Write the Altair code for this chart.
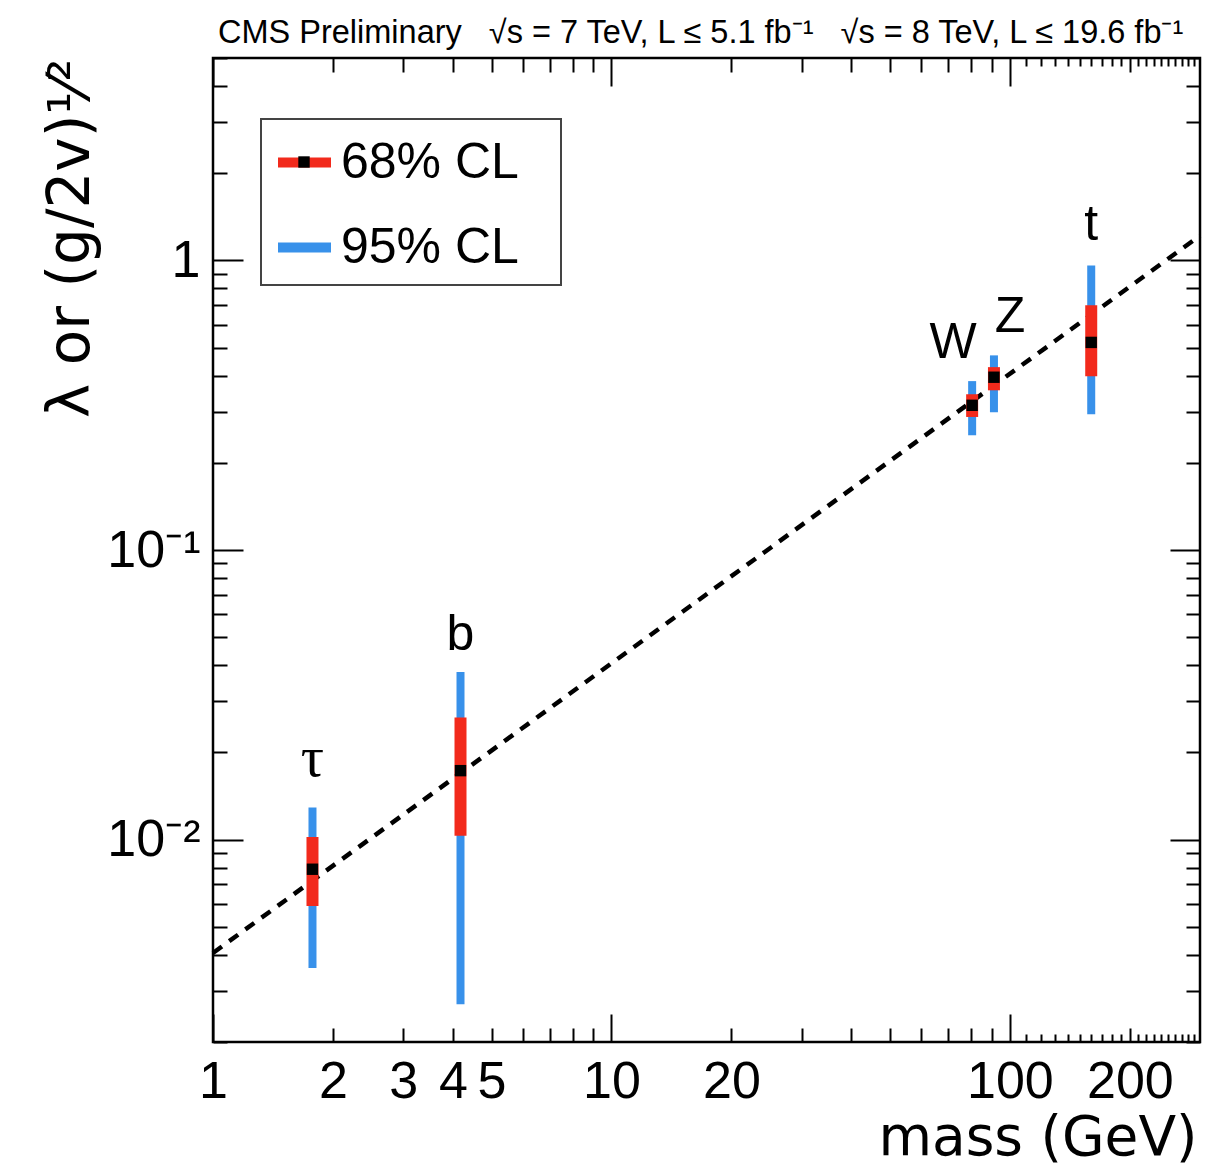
import altair as alt
import pandas as pd

# ---------------- data ----------------
particles = ["τ", "b", "W", "Z", "t"]
masses = [1.777, 4.18, 80.4, 91.2, 160.0]
central = [0.0079, 0.0173, 0.316, 0.395, 0.521]
lo68 = [0.0059, 0.0103, 0.288, 0.356, 0.398]
hi68 = [0.0102, 0.0264, 0.345, 0.428, 0.700]
lo95 = [0.0036, 0.0027, 0.249, 0.299, 0.294]
hi95 = [0.0129, 0.0379, 0.383, 0.470, 0.960]

# SM expectation (dashed line) end points
sm_mass = [1.0, 300.0]
sm_value = [0.00406, 1.218]

# axis ticks / labels
x_label_values = [1, 2, 3, 4, 5, 10, 20, 100, 200]
x_major = [1, 10, 100]
x_minor = [2, 3, 4, 5, 6, 7, 8, 9, 20, 30, 40, 50, 60, 70, 80, 90, 200]
x_fine = [110, 120, 130, 140, 150, 160, 170, 180, 190,
          210, 220, 230, 240, 250, 260, 270, 280, 290]
y_label_values = [0.01, 0.1, 1]
y_label_texts = ["10⁻²", "10⁻¹", "1"]
y_major = [0.01, 0.1, 1]
y_minor = [0.002, 0.003, 0.004, 0.005, 0.006, 0.007, 0.008, 0.009,
           0.02, 0.03, 0.04, 0.05, 0.06, 0.07, 0.08, 0.09,
           0.2, 0.3, 0.4, 0.5, 0.6, 0.7, 0.8, 0.9,
           2, 3, 4, 5]

cl_names = ["68% CL", "95% CL"]
cl_colors = ["#f22a1c", "#3891ea"]
marker_names = ["best fit"]

GAP = "\u00a0\u00a0 "
header_text = ["CMS Preliminary" + GAP + "√s = 7 TeV, L ≤ 5.1 fb⁻¹" + GAP
               + "√s = 8 TeV, L ≤ 19.6 fb⁻¹"]
x_title = "mass (GeV)"
y_title = "λ or (g/2v)¹⁄²"

FONT = "Liberation Sans"
TFONT = "DejaVu Sans"
W, H = 987, 984

# ---------------- tables ----------------
df = pd.DataFrame({
    "particle": particles, "mass": masses, "central": central,
    "lo68": lo68, "hi68": hi68, "lo95": lo95, "hi95": hi95,
})
df["cl68"] = cl_names[0]
df["cl95"] = cl_names[1]
df["marker"] = marker_names[0]
line_df = pd.DataFrame({"mass": sm_mass, "value": sm_value})
header_df = pd.DataFrame({"text": header_text})

xs = alt.Scale(type="log", domain=[1, 300], nice=False)
ys = alt.Scale(type="log", domain=[0.002, 5], nice=False)
cs = alt.Scale(domain=cl_names, range=cl_colors)
ss = alt.Scale(domain=marker_names, range=["square"])

legend = alt.Legend(
    orient="none", legendX=48, legendY=61, title="\u00a0",
    titleOrient="right", titlePadding=30, titleFontSize=8,
    symbolType="stroke", symbolSize=2809, symbolStrokeWidth=10,
    labelFontSize=50, labelFont=FONT, labelColor="black", labelOffset=5,
    labelLimit=600,
    padding=12, rowPadding=28, strokeColor="#444444", fillColor="white",
)
# black best-fit marker drawn on top of the 68% legend symbol
marker_legend = alt.Legend(
    orient="none", legendX=85, legendY=98, title=None,
    symbolFillColor="black", symbolStrokeColor="black", symbolStrokeWidth=0,
    symbolSize=130, symbolOpacity=1, labelExpr="''", labelFontSize=1,
    labelOffset=0, padding=0, zindex=2,
)


def tick_axis(orient, values, size):
    return alt.Axis(orient=orient, values=values, tickSize=alt.ExprRef(expr=str(-size)),
                    labels=False, domain=False, grid=False, title=None,
                    tickColor="black", tickWidth=2)


def axis_layer(xaxis, yaxis):
    return alt.Chart(df).mark_point(opacity=0).encode(
        x=alt.X("mass:Q", scale=xs, axis=xaxis),
        y=alt.Y("central:Q", scale=ys, axis=yaxis),
    )


lab_map = " : ".join(
    [f"datum.value == {v} ? '{t}'" for v, t in zip(y_label_values, y_label_texts)]
) + " : ''"

x_label_axis = alt.Axis(
    orient="bottom", values=x_label_values, ticks=False, domain=False, grid=False,
    labelFontSize=52, labelFont=FONT, labelColor="black", labelPadding=14,
    labelOverlap=False, labelFlush=False, labelBound=False, format="d",
    title=x_title, titleFontSize=55, titleFont=TFONT, titleFontWeight="normal",
    titleColor="black", titleAnchor="end", titleAlign="right",
    titleBaseline="alphabetic", titleX=W - 3, titleY=112,
)
y_label_axis = alt.Axis(
    orient="left", values=y_label_values, ticks=False, domain=False, grid=False,
    labelFontSize=52, labelFont=FONT, labelColor="black", labelPadding=13,
    labelOverlap=False, labelFlush=False, labelBound=False, labelExpr=lab_map,
    labelBaseline="middle",
    title=y_title, titleFontSize=58, titleFont=TFONT, titleFontWeight="normal",
    titleColor="black", titleAngle=270, titleAlign="right",
    titleBaseline="alphabetic", titleX=-125, titleY=0,
)

axes = [
    axis_layer(tick_axis("bottom", x_major, 28), tick_axis("left", y_major, 30)),
    axis_layer(tick_axis("bottom", x_minor, 14), tick_axis("left", y_minor, 14)),
    axis_layer(tick_axis("bottom", x_fine, 8), tick_axis("right", y_major, 30)),
    axis_layer(tick_axis("top", x_major, 28), tick_axis("right", y_minor, 14)),
    axis_layer(tick_axis("top", x_minor, 14), y_label_axis),
    axis_layer(tick_axis("top", x_fine, 8), None),
    axis_layer(x_label_axis, None),
]

X = alt.X("mass:Q", scale=xs, axis=None)

sm_line = alt.Chart(line_df).mark_line(
    color="black", strokeWidth=4.5, strokeDash=[11, 9]
).encode(x=X, y=alt.Y("value:Q", scale=ys, axis=None))

band95 = alt.Chart(df).mark_rule(strokeWidth=8).encode(
    x=X, y=alt.Y("lo95:Q", scale=ys, axis=None), y2="hi95:Q",
    color=alt.Color("cl95:N", scale=cs, legend=legend),
)
band68 = alt.Chart(df).mark_rule(strokeWidth=12).encode(
    x=X, y=alt.Y("lo68:Q", scale=ys, axis=None), y2="hi68:Q",
    color=alt.Color("cl68:N", scale=cs, legend=legend),
)
centre = alt.Chart(df).mark_point(
    size=130, color="black", filled=True, opacity=1, strokeWidth=0
).encode(
    x=X, y=alt.Y("central:Q", scale=ys, axis=None),
    shape=alt.Shape("marker:N", scale=ss, legend=marker_legend),
)


def labels(names, dx, dy, font=FONT, size=50):
    return alt.Chart(df).transform_filter(
        alt.FieldOneOfPredicate(field="particle", oneOf=names)
    ).mark_text(fontSize=size, font=font, baseline="alphabetic", align="center",
                color="black", dx=dx, dy=dy).encode(
        x=X, y=alt.Y("hi95:Q", scale=ys, axis=None), text="particle:N"
    )


texts = [
    labels(["τ"], 0, -32, "Liberation Serif", 58),
    labels(["b"], 0, -22),
    labels(["t"], 0, -26),
    labels(["W"], -19, -23),
    labels(["Z"], 16, -23),
]

header = alt.Chart(header_df).mark_text(
    fontSize=32.5, font=FONT, align="left", baseline="alphabetic", color="black"
).encode(x=alt.value(5), y=alt.value(-15), text="text:N")

chart = alt.layer(
    *axes, sm_line, band95, band68, centre, *texts, header
).resolve_axis(
    x="independent", y="independent"
).properties(
    width=W, height=H,
    autosize=alt.AutoSizeParams(type="none"),
    padding={"left": 205, "top": 50, "right": 16, "bottom": 125},
    background="white",
).configure_view(
    stroke="black", strokeWidth=2.5
).configure_legend(strokeWidth=2)

chart.save("out.html", embed_options={"renderer": "svg", "actions": False})
